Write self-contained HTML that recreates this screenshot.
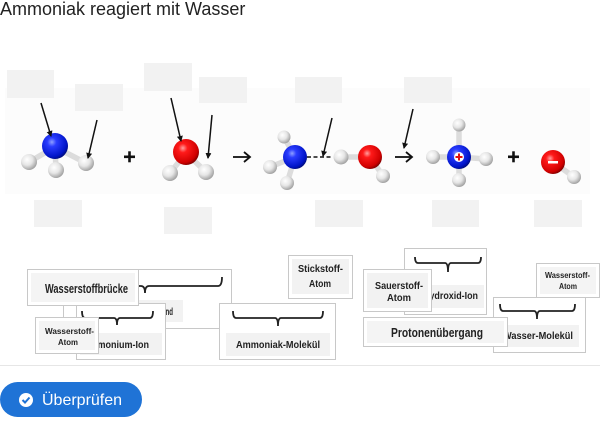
<!DOCTYPE html>
<html><head><meta charset="utf-8"><style>
html,body{margin:0;padding:0;background:#fff;}
body{width:600px;height:434px;overflow:hidden;position:relative;font-family:"Liberation Sans",sans-serif;}
</style></head><body>
<svg width="600" height="434" viewBox="0 0 600 434" xmlns="http://www.w3.org/2000/svg" style="position:absolute;left:0;top:0">
<defs>
<radialGradient id="gN" cx="0.38" cy="0.35" r="0.7">
<stop offset="0" stop-color="#8fa0ff"/><stop offset="0.25" stop-color="#2a3cff"/><stop offset="0.8" stop-color="#0014c8"/><stop offset="1" stop-color="#000a70"/>
</radialGradient>
<radialGradient id="gO" cx="0.38" cy="0.35" r="0.7">
<stop offset="0" stop-color="#ffa0a0"/><stop offset="0.25" stop-color="#ff1a1a"/><stop offset="0.8" stop-color="#d00000"/><stop offset="1" stop-color="#700000"/>
</radialGradient>
<radialGradient id="gH" cx="0.38" cy="0.35" r="0.7">
<stop offset="0" stop-color="#ffffff"/><stop offset="0.5" stop-color="#e6e6e6"/><stop offset="1" stop-color="#9a9a9a"/>
</radialGradient>
<marker id="ah" markerWidth="6" markerHeight="6" refX="5" refY="3" orient="auto" markerUnits="userSpaceOnUse">
<path d="M0,0 L6,3 L0,6 z" fill="#111"/>
</marker>
</defs>

<text x="0" y="15" font-family="Liberation Sans, sans-serif" font-size="18" fill="#222">Ammoniak reagiert mit Wasser</text>

<!-- image bg -->
<rect x="5" y="88" width="585" height="106" fill="#fcfcfc"/>

<!-- grey label boxes -->
<g fill="#f2f2f2">
<rect x="7" y="70" width="47" height="28"/>
<rect x="75" y="84" width="48" height="27"/>
<rect x="144" y="63" width="48" height="28"/>
<rect x="199" y="77" width="48" height="26"/>
<rect x="34" y="200" width="48" height="27"/>
<rect x="164" y="207" width="48" height="27"/>
<rect x="295" y="77" width="47" height="26"/>
<rect x="404" y="77" width="48" height="26"/>
<rect x="315" y="200" width="48" height="27"/>
<rect x="432" y="200" width="47" height="27"/>
<rect x="534" y="200" width="48" height="27"/>
</g>

<!-- sticks -->
<g stroke="#dcdcdc" stroke-width="5.5" stroke-linecap="round">
<line x1="55" y1="147" x2="29" y2="162"/>
<line x1="55" y1="147" x2="56" y2="170"/>
<line x1="55" y1="147" x2="86" y2="163"/>
<line x1="186" y1="153" x2="170" y2="173"/>
<line x1="186" y1="153" x2="206" y2="172"/>
<line x1="295" y1="157" x2="284" y2="137"/>
<line x1="295" y1="157" x2="270" y2="167"/>
<line x1="295" y1="157" x2="287" y2="183"/>
<line x1="341" y1="157" x2="370" y2="157"/>
<line x1="370" y1="157" x2="383" y2="176"/>
<line x1="459" y1="157" x2="459" y2="125"/>
<line x1="459" y1="157" x2="433" y2="157"/>
<line x1="459" y1="157" x2="486" y2="159"/>
<line x1="459" y1="157" x2="459" y2="180"/>
<line x1="553" y1="162" x2="574" y2="177"/>
</g>

<!-- atoms -->
<circle cx="55" cy="146" r="13" fill="url(#gN)"/>
<circle cx="29" cy="162" r="8" fill="url(#gH)"/>
<circle cx="56" cy="170" r="8" fill="url(#gH)"/>
<circle cx="86" cy="163" r="8" fill="url(#gH)"/>

<circle cx="186" cy="152" r="13" fill="url(#gO)"/>
<circle cx="170" cy="173" r="8" fill="url(#gH)"/>
<circle cx="206" cy="172" r="8" fill="url(#gH)"/>

<circle cx="284" cy="137" r="6.5" fill="url(#gH)"/>
<circle cx="270" cy="167" r="7" fill="url(#gH)"/>
<circle cx="287" cy="183" r="7" fill="url(#gH)"/>
<circle cx="295" cy="157" r="12" fill="url(#gN)"/>
<line x1="307" y1="157" x2="333" y2="157" stroke="#111" stroke-width="1.5" stroke-dasharray="4,2.5"/>
<circle cx="341" cy="157" r="7.5" fill="url(#gH)"/>
<circle cx="383" cy="176" r="7" fill="url(#gH)"/>
<circle cx="370" cy="157" r="12" fill="url(#gO)"/>

<circle cx="459" cy="125" r="6.5" fill="url(#gH)"/>
<circle cx="433" cy="157" r="7" fill="url(#gH)"/>
<circle cx="486" cy="159" r="7" fill="url(#gH)"/>
<circle cx="459" cy="180" r="7" fill="url(#gH)"/>
<circle cx="459" cy="157" r="12" fill="url(#gN)"/>
<circle cx="459" cy="157" r="5" fill="#fff"/>
<rect x="455.5" y="156" width="7" height="2" fill="#e01010"/>
<rect x="458" y="153.5" width="2" height="7" fill="#e01010"/>

<circle cx="574" cy="177" r="7" fill="url(#gH)"/>
<circle cx="553" cy="162" r="12" fill="url(#gO)"/>
<rect x="548" y="161" width="10" height="2.5" fill="#fff"/>

<!-- pointer arrows -->
<g stroke="#111" stroke-width="1.5" marker-end="url(#ah)">
<line x1="41" y1="103" x2="51" y2="136"/>
<line x1="97" y1="120" x2="88" y2="158"/>
<line x1="171" y1="98" x2="181" y2="141"/>
<line x1="212" y1="115" x2="208" y2="158"/>
<line x1="332" y1="118" x2="323" y2="156"/>
<line x1="413" y1="109" x2="404" y2="148"/>
</g>
<!-- plus signs -->
<g fill="#111">
<rect x="124" y="155.5" width="11" height="2.6"/><rect x="128.2" y="151.3" width="2.6" height="11"/>
<rect x="508" y="155.5" width="11" height="2.6"/><rect x="512.2" y="151.3" width="2.6" height="11"/>
</g>
<!-- reaction arrows -->
<g stroke="#111" stroke-width="1.8" fill="none">
<line x1="233" y1="157" x2="249" y2="157"/><path d="M244,152 L250,157 L244,162"/>
<line x1="395" y1="157" x2="411" y2="157"/><path d="M406,152 L412,157 L406,162"/>
</g>

<!-- ===== cards ===== -->
<g font-family="Liberation Sans, sans-serif" font-weight="bold" fill="#222">
<!-- Übergangszustand card -->
<rect x="63.5" y="269.5" width="168" height="59" fill="#fff" stroke="#c8c8c8"/>
<path d="M68,277 q0,9 4,9 L141,286 q4,0 4,7 q0,-7 4,-7 L218,286 q4,0 4,-9" fill="none" stroke="#222" stroke-width="1.8"/>
<rect x="110" y="300" width="73" height="22" fill="#f2f2f2"/>
<text x="118" y="315" font-size="10" textLength="55" lengthAdjust="spacingAndGlyphs">Übergangszustand</text>

<!-- Ammonium-Ion card -->
<rect x="76.5" y="303.5" width="89" height="56" fill="#fff" stroke="#c8c8c8"/>
<path d="M82,311 q0,7 3,7 L114,318 q3,0 3,7 q0,-7 3,-7 L150,318 q3,0 3,-7" fill="none" stroke="#222" stroke-width="1.8"/>
<rect x="80" y="333" width="82" height="22" fill="#f2f2f2"/>
<text x="83" y="348" font-size="10" textLength="66" lengthAdjust="spacingAndGlyphs">Ammonium-Ion</text>

<!-- Wasserstoffbrücke -->
<rect x="27.5" y="269.5" width="111" height="36" fill="#fff" stroke="#c8c8c8"/>
<rect x="31" y="273" width="104" height="29" fill="#f4f4f4"/>
<text x="45" y="293" font-size="12.5" textLength="83" lengthAdjust="spacingAndGlyphs">Wasserstoffbrücke</text>

<!-- Wasserstoff-Atom left -->
<rect x="35.5" y="317.5" width="63" height="36" fill="#fff" stroke="#c8c8c8"/>
<rect x="39" y="321" width="56" height="29" fill="#f4f4f4"/>
<text x="45" y="334" font-size="8.5" textLength="49" lengthAdjust="spacingAndGlyphs">Wasserstoff-</text>
<text x="58" y="345" font-size="8.5" textLength="20" lengthAdjust="spacingAndGlyphs">Atom</text>

<!-- Ammoniak-Molekül -->
<rect x="219.5" y="303.5" width="116" height="56" fill="#fff" stroke="#c8c8c8"/>
<path d="M233,311 q0,7 3,7 L275,318 q3,0 3,8 q0,-8 3,-8 L320,318 q3,0 3,-7" fill="none" stroke="#222" stroke-width="1.8"/>
<rect x="226" y="333" width="104" height="23" fill="#f2f2f2"/>
<text x="236" y="348" font-size="10" textLength="84" lengthAdjust="spacingAndGlyphs">Ammoniak-Molekül</text>

<!-- Stickstoff-Atom -->
<rect x="288.5" y="255.5" width="64" height="43" fill="#fff" stroke="#c8c8c8"/>
<rect x="292" y="259" width="57" height="35" fill="#f2f2f2"/>
<text x="298" y="272" font-size="10" textLength="45" lengthAdjust="spacingAndGlyphs">Stickstoff-</text>
<text x="309" y="287" font-size="10" textLength="22" lengthAdjust="spacingAndGlyphs">Atom</text>

<!-- Hydroxid-Ion -->
<rect x="404.5" y="248.5" width="82" height="66" fill="#fff" stroke="#c8c8c8"/>
<path d="M415,257 q0,6 3,6 L445,263 q3,0 3,9 q0,-9 3,-9 L478,263 q3,0 3,-6" fill="none" stroke="#222" stroke-width="1.8"/>
<rect x="410" y="285" width="74" height="23" fill="#f2f2f2"/>
<text x="423" y="299" font-size="10" textLength="55" lengthAdjust="spacingAndGlyphs">Hydroxid-Ion</text>

<!-- Sauerstoff-Atom -->
<rect x="363.5" y="269.5" width="68" height="42" fill="#fff" stroke="#c8c8c8"/>
<rect x="367" y="273" width="61" height="35" fill="#f2f2f2"/>
<text x="375" y="289" font-size="10" textLength="48" lengthAdjust="spacingAndGlyphs">Sauerstoff-</text>
<text x="387" y="301" font-size="10" textLength="24" lengthAdjust="spacingAndGlyphs">Atom</text>

<!-- Wasser-Molekül -->
<rect x="493.5" y="297.5" width="92" height="55" fill="#fff" stroke="#c8c8c8"/>
<path d="M500,304 q0,7 3,7 L534,311 q3,0 3,8 q0,-8 3,-8 L572,311 q3,0 3,-7" fill="none" stroke="#222" stroke-width="1.8"/>
<rect x="498" y="325" width="81" height="22" fill="#f2f2f2"/>
<text x="503" y="339" font-size="10" textLength="70" lengthAdjust="spacingAndGlyphs">Wasser-Molekül</text>

<!-- Protonenübergang -->
<rect x="363.5" y="317.5" width="144" height="29" fill="#fff" stroke="#c8c8c8"/>
<rect x="367" y="321" width="137" height="22" fill="#f4f4f4"/>
<text x="391" y="337" font-size="12.5" textLength="92" lengthAdjust="spacingAndGlyphs">Protonenübergang</text>

<!-- Wasserstoff-Atom right -->
<rect x="536.5" y="263.5" width="63" height="34" fill="#fff" stroke="#c8c8c8"/>
<rect x="540" y="267" width="56" height="27" fill="#f4f4f4"/>
<text x="545" y="278" font-size="8.5" textLength="45" lengthAdjust="spacingAndGlyphs">Wasserstoff-</text>
<text x="559" y="289" font-size="8.5" textLength="18" lengthAdjust="spacingAndGlyphs">Atom</text>
</g>

<!-- separator -->
<rect x="0" y="365" width="600" height="1" fill="#e6e6e6"/>

<!-- button -->
<rect x="0" y="382" width="142" height="35" rx="17.5" fill="#1f73d6"/>
<circle cx="26" cy="400" r="7" fill="#fff"/>
<path d="M22.5,400 L25,402.5 L29.5,397.5" fill="none" stroke="#1f73d6" stroke-width="2"/>
<text x="42" y="405" font-family="Liberation Sans, sans-serif" font-size="16" fill="#fff">Überprüfen</text>
</svg>
</body></html>
